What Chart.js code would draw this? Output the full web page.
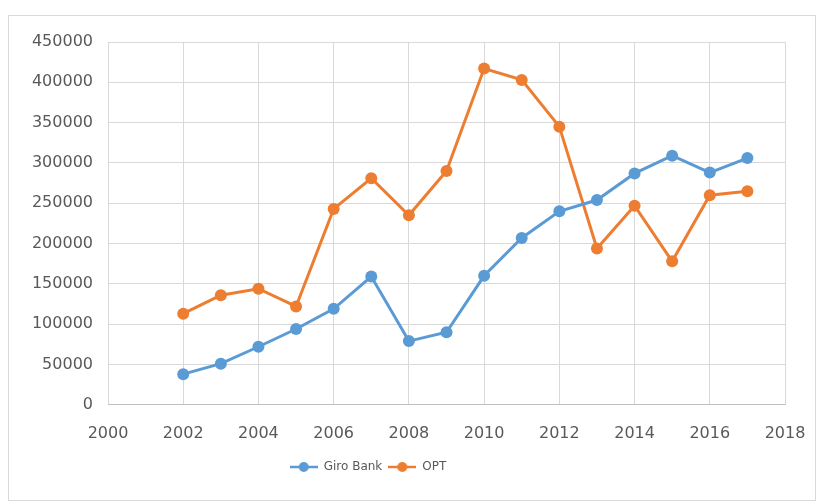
<!DOCTYPE html>
<html>
<head>
<meta charset="utf-8">
<script src="https://cdn.jsdelivr.net/npm/chart.js@4/dist/chart.umd.min.js"></script>
<style>
  body { margin: 0; background: #fff; }
  #wrap { position: absolute; left: 8px; top: 15px; width: 806px; height: 484px; border: 1px solid #d9d9d9; }
</style>
</head>
<body>
<div id="wrap"><canvas id="grafico"></canvas></div>
<script>
// Datos
const years = [2002, 2003, 2004, 2005, 2006, 2007, 2008, 2009, 2010, 2011, 2012, 2013, 2014, 2015, 2016, 2017];
const giroBank = [38000, 51000, 72000, 94000, 119000, 159000, 79000, 90000, 160000, 207000, 240000, 254000, 287000, 309000, 288000, 306000];
const opt = [113000, 136000, 144000, 122000, 243000, 281000, 235000, 290000, 417000, 403000, 345000, 194000, 247000, 178000, 260000, 265000];
const seriesNames = ['Giro Bank', 'OPT'];
const colores = ['#5b9bd5', '#ed7d31'];

// Icono de leyenda: línea con punto
function legendIcon(color) {
    const c = document.createElement('canvas');
    c.width = 28; c.height = 12;
    const ctx = c.getContext('2d');
    ctx.strokeStyle = color;
    ctx.lineWidth = 2.5;
    ctx.beginPath();
    ctx.moveTo(0, 6);
    ctx.lineTo(28, 6);
    ctx.stroke();
    ctx.fillStyle = color;
    ctx.beginPath();
    ctx.arc(14, 6, 5, 0, Math.PI * 2);
    ctx.fill();
    return c;
}

// La leyenda del original no está centrada: se desplaza a la izquierda
const moverLeyenda = {
    id: 'moverLeyenda',
    afterLayout(chart) {
        if (chart.legend) chart.legend.right -= 58;
    }
};

const toPoints = vals => vals.map((v, i) => ({ x: years[i], y: v }));
const font = { family: 'DejaVu Sans', size: 16 };

new Chart(document.getElementById('grafico'), {
    type: 'line',
    data: {
        datasets: [giroBank, opt].map((vals, i) => ({
            label: seriesNames[i],
            data: toPoints(vals),
            borderColor: colores[i],
            backgroundColor: colores[i],
            borderWidth: 3,
            pointRadius: 6,
            pointBorderWidth: 0,
            tension: 0
        }))
    },
    options: {
        responsive: true,
        maintainAspectRatio: false,
        animation: false,
        layout: { padding: { left: 0, top: 26, right: 30, bottom: 17 } },
        scales: {
            x: {
                type: 'linear',
                min: 2000,
                max: 2018,
                grid: { color: '#d9d9d9', drawTicks: false },
                border: { color: '#bfbfbf' },
                ticks: {
                    stepSize: 2,
                    padding: 19,
                    color: '#595959',
                    font: font,
                    maxRotation: 0,
                    callback: v => String(v)
                },
                afterFit: scale => {
                    scale.height -= 7;
                    scale.paddingLeft = 0;
                    scale.paddingRight = 0;
                }
            },
            y: {
                min: 0,
                max: 450000,
                grid: { color: '#d9d9d9', drawTicks: false },
                border: { display: false },
                ticks: {
                    stepSize: 50000,
                    padding: 15,
                    color: '#595959',
                    font: font,
                    callback: v => String(v)
                },
                afterFit: scale => { scale.width = 99; }
            }
        },
        plugins: {
            legend: {
                position: 'bottom',
                labels: {
                    usePointStyle: true,
                    pointStyleWidth: 28,
                    color: '#595959',
                    font: { family: 'DejaVu Sans', size: 12 },
                    padding: 6,
                    generateLabels: chart => chart.data.datasets.map((ds, i) => ({
                        text: ds.label,
                        pointStyle: legendIcon(colores[i]),
                        fontColor: '#595959',
                        datasetIndex: i,
                        lineWidth: 0
                    }))
                }
            },
            tooltip: { enabled: false }
        }
    },
    plugins: [moverLeyenda]
});
</script>
</body>
</html>
